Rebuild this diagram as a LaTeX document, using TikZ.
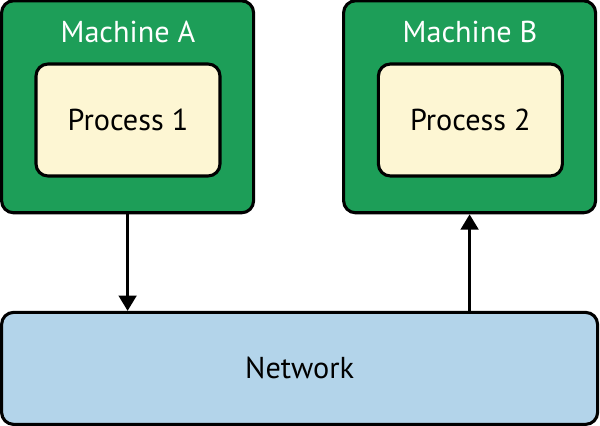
\documentclass[tikz,border=0pt]{standalone}
\usepackage{fontspec}
\setmainfont{PT Sans}
\usetikzlibrary{arrows.meta}

\definecolor{machgreen}{RGB}{29,158,88}
\definecolor{procyellow}{RGB}{253,246,211}
\definecolor{netblue}{RGB}{179,212,234}

\tikzset{
  machine/.style={draw=black, line width=2.2pt, fill=machgreen, rounded corners=0.3cm,
    minimum width=6.3cm, minimum height=5.3cm},
  process/.style={draw=black, line width=2.2pt, fill=procyellow, rounded corners=0.3cm,
    minimum width=4.6cm, minimum height=2.8cm, font=\fontsize{21.5}{24}\selectfont},
  network/.style={draw=black, line width=2.2pt, fill=netblue, rounded corners=0.3cm,
    minimum width=14.9cm, minimum height=2.8cm, font=\fontsize{21.5}{24}\selectfont},
  machlabel/.style={white, font=\fontsize{21.5}{24}\selectfont},
  flow/.style={-{Triangle[width=0.44cm, length=0.38cm]}, line width=1.9pt}
}

\begin{document}
\begin{tikzpicture}

\useasboundingbox (0, 0) rectangle (15, 10.65);

% machines
\node[machine] (machA) at (3.19, 7.98) {};
\node[machine] (machB) at (11.74, 7.98) {};
\node[machlabel] (labA) at (3.2, 9.84) {Machine A};
\node[machlabel] (labB) at (11.75, 9.84) {Machine B};

% processes
\node[process] (proc1) at (3.2, 7.65) {Process 1};
\node[process] (proc2) at (11.76, 7.65) {Process 2};

% network
\node[network] (net) at (7.49, 1.44) {Network};

% messages
\draw[flow] (machA.south) -- (machA.south |- net.north);
\draw[flow] (machB.south |- net.north) -- (machB.south);

\end{tikzpicture}
\end{document}
